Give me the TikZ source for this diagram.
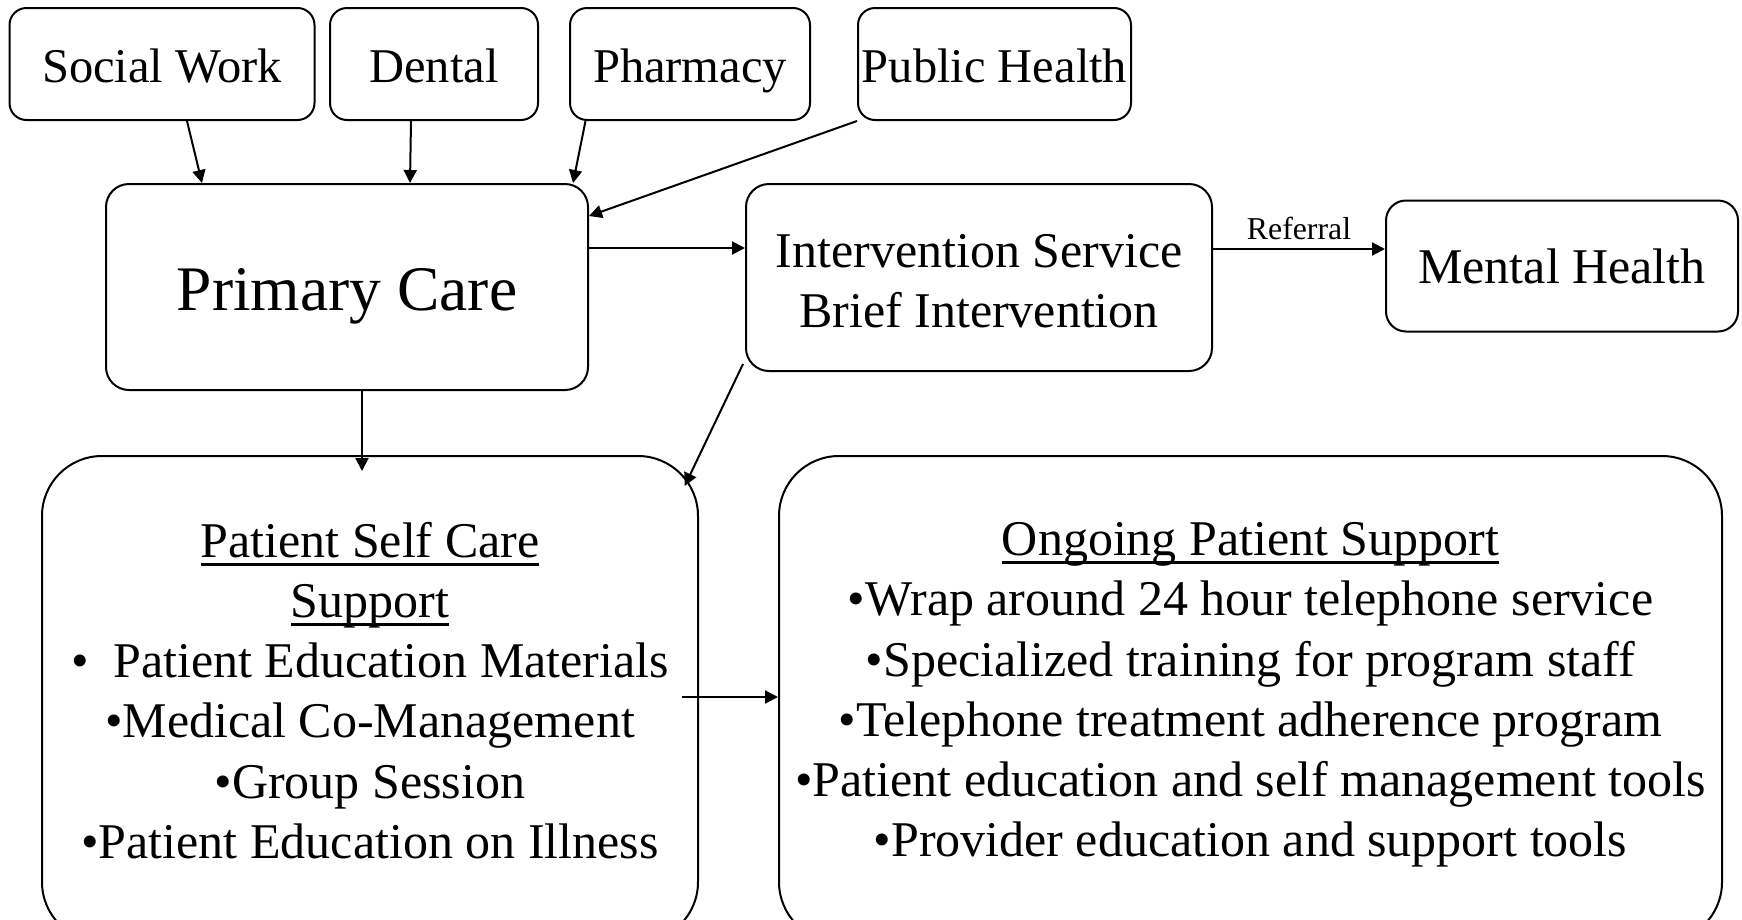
\documentclass[tikz,border=0pt]{standalone}
\usepackage{fontspec}
\setmainfont{Liberation Serif}
\usetikzlibrary{arrows.meta}
\newcommand\myul[1]{\setbox0=\hbox{#1}\rlap{\rule[-0.17em]{\wd0}{0.055em}}\box0}
\begin{document}
\begin{tikzpicture}[x=1pt,y=-1pt,
  box/.style={draw, line width=2pt, rounded corners=#1, inner sep=0pt, align=center},
  arr/.style={-{Triangle[length=13pt,width=13pt]}, line width=2pt},
  small/.style={font={\fontsize{48.5}{58}\selectfont}, text height=36pt, text depth=0pt},
  mid/.style={font={\fontsize{50}{60}\selectfont}},
  big/.style={font={\fontsize{63.5}{76}\selectfont}, text height=46pt, text depth=0pt},
  list/.style={font={\fontsize{50}{60.2}\selectfont}, align=center, inner sep=0pt}]
\useasboundingbox (0,0) rectangle (1742,919);
\clip (0,0) rectangle (1742,919);
% top row
\node[box=17pt, small, minimum width=305pt, minimum height=112pt] (sw) at (162,64) {Social Work};
\node[box=17pt, small, minimum width=208pt, minimum height=112pt] (dn) at (434,64) {Dental};
\node[box=17pt, small, minimum width=240pt, minimum height=112pt] (ph) at (690,64) {Pharmacy};
\node[box=17pt, small, minimum width=273pt, minimum height=112pt] (pu) at (994.5,64) {Public Health};
% middle row
\node[box=23pt, big, minimum width=482pt, minimum height=206pt] (pc) at (347,287) {Primary Care};
\node[box=23pt, minimum width=466pt, minimum height=187pt] (iv) at (979,277.5) {};
\node[list, font={\fontsize{50}{60}\selectfont}] (ivt) at (979,281) {Intervention Service\\Brief Intervention};
\node[box=20pt, mid, text height=35pt, text depth=0pt, minimum width=352pt, minimum height=131pt] (mh) at (1562,266) {Mental Health};
% bottom row
\node[box=60pt, minimum width=656pt, minimum height=486pt] (psc) at (370,699) {};
\node[box=60pt, minimum width=943pt, minimum height=486pt] (og) at (1250.5,699) {};
\node[list] (psct) at (370,690.5) {\myul{Patient Self Care}\\\myul{Support}\\%
  •\hspace{0.5em}Patient Education Materials\\•Medical Co-Management\\•Group Session\\•Patient Education on Illness};
\node[list] (ogt) at (1250.5,695) {\myul{Ongoing Patient Support}\\%
  •Wrap around 24 hour telephone service\\•Specialized training for program staff\\%
  •Telephone treatment adherence program\\•Patient education and self management tools\\%
  •Provider education and support tools};
% connectors
\draw[arr] ([xshift=25pt]sw.south) -- ([xshift=97pt]pc.north west);
\draw[arr] ([xshift=-23pt]dn.south) -- ([xshift=305pt]pc.north west);
\draw[arr] ([xshift=-104.5pt]ph.south) -- ([xshift=-16pt]pc.north east);
\draw[arr] (pu.south west) -- ([yshift=-33pt]pc.north east);
\coordinate (a1) at ([yshift=39pt]pc.east);
\draw[arr] (a1) -- (a1 -| iv.west);
\coordinate (a2) at ([yshift=28.5pt]iv.east);
\draw[arr] (a2) -- node[above=8pt, inner sep=0pt, font={\fontsize{31.8}{38}\selectfont}] (ref) {Referral} (a2 -| mh.west);
\draw[arr] ([xshift=15pt]pc.south) -- ([xshift=-8pt,yshift=-16pt]psc.north);
\draw[arr] ([xshift=-2pt,yshift=8pt]iv.south west) -- ([xshift=-14.3pt,yshift=-31pt]psc.north east);
\coordinate (a3) at ([xshift=-17pt,yshift=2pt]psc.east);
\draw[arr] (a3) -- (a3 -| og.west);
\end{tikzpicture}
\end{document}
